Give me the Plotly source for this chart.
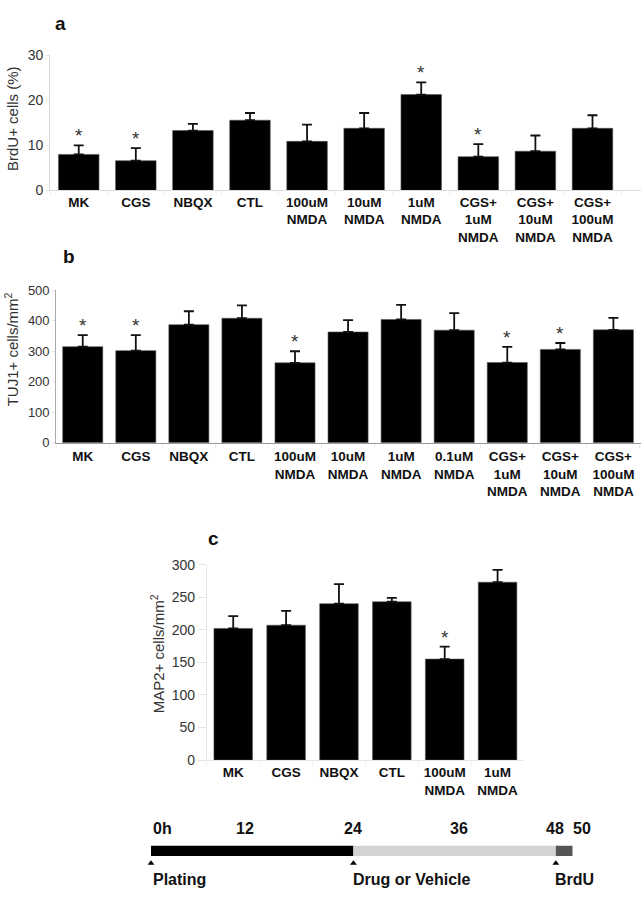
import plotly.graph_objects as go

# ---------------- data ----------------
cats_a = ["MK", "CGS", "NBQX", "CTL", "100uM<br>NMDA", "10uM<br>NMDA", "1uM<br>NMDA",
          "CGS+<br>1uM<br>NMDA", "CGS+<br>10uM<br>NMDA", "CGS+<br>100uM<br>NMDA"]
brdu_mean = [8.0, 6.6, 13.3, 15.6, 10.9, 13.8, 21.3, 7.5, 8.7, 13.8]
brdu_err = [2.0, 2.8, 1.5, 1.6, 3.7, 3.4, 2.7, 2.8, 3.5, 2.9]
brdu_sig = [1, 1, 0, 0, 0, 0, 1, 1, 0, 0]

cats_b = ["MK", "CGS", "NBQX", "CTL", "100uM<br>NMDA", "10uM<br>NMDA", "1uM<br>NMDA",
          "0.1uM<br>NMDA", "CGS+<br>1uM<br>NMDA", "CGS+<br>10uM<br>NMDA", "CGS+<br>100uM<br>NMDA"]
tuj1_mean = [315, 302, 387, 408, 262, 363, 404, 369, 263, 306, 370]
tuj1_err = [38, 51, 44, 42, 38, 39, 48, 56, 51, 21, 39]
tuj1_sig = [1, 1, 0, 0, 1, 0, 0, 0, 1, 1, 0]

cats_c = ["MK", "CGS", "NBQX", "CTL", "100uM<br>NMDA", "1uM<br>NMDA"]
map2_mean = [202, 207, 240, 243, 155, 273]
map2_err = [19, 22, 30, 6, 19, 19]
map2_sig = [0, 0, 0, 0, 1, 0]

tl_start = [0, 24, 48]
tl_end = [24, 48, 50]
tl_colors = ["#000000", "#d3d3d3", "#555555"]
tl_ticks = [0, 12, 24, 36, 48, 50]
tl_ticktext = ["0h", "12", "24", "36", "48", "50"]
tl_tickshift = [0, -7, 0, 4, -1, 9]
ev_time = [0, 24, 48]
ev_text = ["Plating", "Drug or Vehicle", "BrdU"]
ev_shift = [0, -2, -3]

# ---------------- layout helpers ----------------
W, H = 641, 899
FONT = "Liberation Sans, Arial, Helvetica, sans-serif"


def px(x):
    return x / W


def py(y):
    return 1 - y / H


fig = go.Figure()


def add_panel(cats, mean, err, sig, xa, ya, bw):
    fig.add_trace(go.Bar(
        x=cats, y=mean, width=bw, xaxis=xa, yaxis=ya,
        marker=dict(color="black", line=dict(color="#555", width=0.6)),
        error_y=dict(type="data", symmetric=False, array=err, arrayminus=[0] * len(err),
                     color="#111", thickness=1.8, width=5),
        showlegend=False, hoverinfo="skip"))
    anns = []
    for c, m, e, s in zip(cats, mean, err, sig):
        if s:
            anns.append(dict(x=c, y=m + e, xref=xa, yref=ya, text="*", showarrow=False,
                             yanchor="bottom", yshift=-3,
                             font=dict(size=19, color="#333", family=FONT)))
    return anns


annotations = []
annotations += add_panel(cats_a, brdu_mean, brdu_err, brdu_sig, "x", "y", 0.71)
annotations += add_panel(cats_b, tuj1_mean, tuj1_err, tuj1_sig, "x2", "y2", 0.755)
annotations += add_panel(cats_c, map2_mean, map2_err, map2_sig, "x3", "y3", 0.73)

# timeline bar (y axis spans bar + event markers)
fig.add_trace(go.Bar(
    y=[0] * len(tl_start), base=tl_start,
    x=[e - s for s, e in zip(tl_start, tl_end)],
    orientation="h", width=1, xaxis="x4", yaxis="y4",
    marker=dict(color=tl_colors, line=dict(width=0)),
    showlegend=False, hoverinfo="skip"))
fig.add_trace(go.Scatter(
    x=ev_time, y=[-1.2] * len(ev_time), mode="markers", xaxis="x4", yaxis="y4",
    marker=dict(symbol="triangle-up", size=6, color="black", line=dict(width=0)),
    cliponaxis=False, showlegend=False, hoverinfo="skip"))

for t, txt, sh in zip(tl_ticks, tl_ticktext, tl_tickshift):
    annotations.append(dict(x=t, y=py(835), xref="x4", yref="paper", text=txt,
                            showarrow=False, xanchor="left" if t == 0 else "center",
                            yanchor="middle", xshift=sh,
                            font=dict(size=16, color="#111", family=FONT, weight="bold")))
for t, txt, sh in zip(ev_time, ev_text, ev_shift):
    annotations.append(dict(x=t, y=py(887), xref="x4", yref="paper", text=txt,
                            showarrow=False, xanchor="left", yanchor="middle", xshift=sh,
                            font=dict(size=16, color="#111", family=FONT, weight="bold")))

# panel letters
for letter, lx, ly in [("a", 53, 15.5), ("b", 61, 253.5), ("c", 206, 540.5)]:
    annotations.append(dict(x=px(lx), y=py(ly), xref="paper", yref="paper", text=letter,
                            showarrow=False, xanchor="left", yanchor="middle",
                            font=dict(size=19, color="#111", family=FONT, weight="bold")))

# y axis titles
for txt, tx, ty in [("BrdU+ cells (%)", 13, 113), ("TUJ1+ cells/mm<sup>2</sup>", 11, 347.5),
                    ("MAP2+ cells/mm<sup>2</sup>", 157, 658)]:
    annotations.append(dict(x=px(tx), y=py(ty), xref="paper", yref="paper", text=txt,
                            showarrow=False, textangle=-90, xanchor="center", yanchor="middle",
                            font=dict(size=15, color="#333", family=FONT)))

cat_font = dict(size=13.5, color="#111", family=FONT, weight="bold")
num_font = dict(family=FONT, color="#333")


def xax(dom, rng, line_col, standoff):
    return dict(domain=dom, range=rng, type="category", showline=True, linecolor=line_col,
                linewidth=1.2, ticks="outside", tickson="boundaries", ticklen=4,
                tickcolor="#eeeeee", tickfont=cat_font, showgrid=False, zeroline=False,
                ticklabelstandoff=standoff, fixedrange=True)


def yax(dom, rng, dtick, size, line_col, tlen):
    return dict(domain=dom, range=rng, dtick=dtick, showline=True, linecolor=line_col,
                linewidth=1, ticks="outside", ticklen=tlen, tickcolor="#e4e4e4",
                tickfont=dict(size=size, **num_font), showgrid=False, zeroline=False,
                fixedrange=True)


fig.update_layout(
    width=W, height=H, margin=dict(l=0, r=0, t=0, b=0),
    paper_bgcolor="white", plot_bgcolor="white", barmode="overlay",
    font=dict(family=FONT),
    xaxis=dict(anchor="y", **xax([px(50.2), 1.0], [-0.5, 9.85], "#dddddd", -1)),
    yaxis=dict(anchor="x", **yax([py(185.7), py(48.3)], [0, 30], 10, 14, "#d6d6d6", 3)),
    xaxis2=dict(anchor="y2", **xax([px(56.2), 1.0], [-0.5, 10.52], "#999999", 1)),
    yaxis2=dict(anchor="x2", **yax([py(442.7), py(287.3)], [0, 500], 100, 13, "#aaaaaa", 3)),
    xaxis3=dict(anchor="y3", **xax([px(206.8), px(524)], [-0.5, 5.5], "#e6e6e6", 0)),
    yaxis3=dict(anchor="x3", **yax([py(765.7), py(566.7)], [0, 300], 50, 14, "#e6e6e6", 8)),
    xaxis4=dict(anchor="y4", domain=[px(151), px(572.7)], range=[0, 50], visible=False,
                fixedrange=True),
    yaxis4=dict(anchor="x4", domain=[py(876), py(852.7)], range=[-1.7, 0.5], visible=False,
                fixedrange=True),
    annotations=annotations,
)

fig.write_html(
    "out.html",
    config={"displayModeBar": False},
    post_script=("document.documentElement.style.margin='0';"
                 "document.body.style.margin='0';document.body.style.padding='0';"
                 "document.body.style.overflow='hidden';"
                 "document.documentElement.style.overflow='hidden';"),
)
